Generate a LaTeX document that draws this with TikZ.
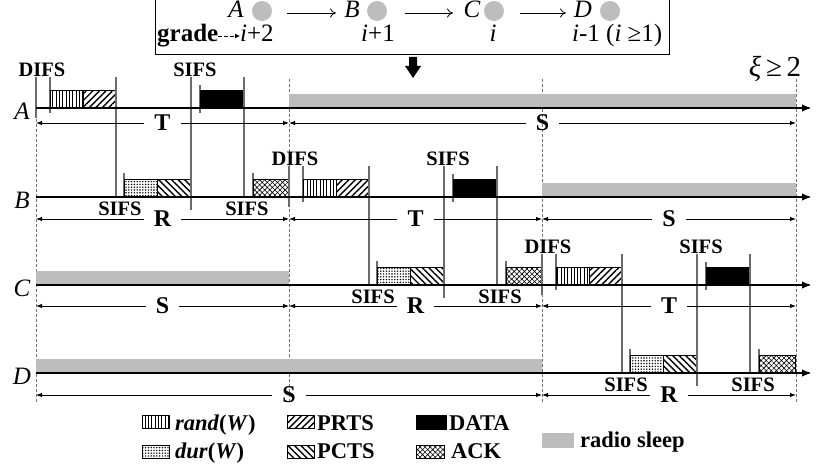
\documentclass[tikz,border=0pt]{standalone}
\usepackage{fontspec}
\setmainfont{Liberation Serif}
\usetikzlibrary{arrows.meta,patterns.meta}
\definecolor{vline}{gray}{0.42}
\definecolor{guidec}{gray}{0.45}
\definecolor{sleepc}{gray}{0.74}
\newcommand\myfs[1]{\fontsize{#1}{#1}\selectfont}
\begin{document}
\begin{tikzpicture}[x=1pt,y=-1pt,
  guide/.style={draw=guidec,line width=0.6pt,dash pattern=on 3pt off 2pt},
  vl/.style={draw=vline,line width=1.2pt},
  axisline/.style={draw=black,line width=1.2pt,-{Latex[length=9pt,width=7pt]}},
  pbox/.style={draw=black,line width=1pt},
  randp/.style={pbox,pattern={Lines[angle=90,distance=3.3pt,line width=0.7pt]}},
  prtsp/.style={pbox,pattern={Lines[angle=45,distance=4.6pt,line width=1.4pt]}},
  pctsp/.style={pbox,pattern={Lines[angle=-45,distance=4.6pt,line width=1.4pt]}},
  durp/.style={pbox,pattern={Dots[distance=2.8pt,radius=0.8pt]}},
  ackp/.style={pbox,pattern={Hatch[angle=45,distance=3.6pt,line width=0.6pt]}},
  datap/.style={pbox,fill=black},
  sleep/.style={fill=sleepc},
  lbl/.style={font=\bfseries\myfs{20.5},inner sep=0pt},
  spanlbl/.style={font=\bfseries\myfs{24},inner xsep=10pt,inner ysep=0pt},
  spanline/.style={line width=0.9pt},
  rowlbl/.style={font=\itshape\myfs{25},inner sep=0pt},
  boxtxt/.style={font=\myfs{25},inner sep=0pt,anchor=base},
  legtxt/.style={font=\bfseries\myfs{22.5},inner sep=0pt,anchor=base west}]
\useasboundingbox (0,0) rectangle (817,470);

% ---------- top box ----------
\draw[line width=1pt] (155,-1) rectangle (669,55);
\node[boxtxt] (tA) at (236,18) {\itshape A};
\node[boxtxt] (tB) at (352,18) {\itshape B};
\node[boxtxt] (tC) at (472,18) {\itshape C};
\node[boxtxt] (tD) at (583,18) {\itshape D};
\fill[sleepc] (262,11) circle[radius=10];
\fill[sleepc] (377,11) circle[radius=10];
\fill[sleepc] (494,11) circle[radius=10];
\fill[sleepc] (610,11) circle[radius=10];
\coordinate (a1s) at (287,13); \coordinate (a1e) at (336,13);
\coordinate (a2s) at (405,13); \coordinate (a2e) at (453,13);
\coordinate (a3s) at (520,13); \coordinate (a3e) at (566,13);
\draw[line width=0.8pt,-{To[length=6pt,width=9pt]}] (a1s) -- (a1e);
\draw[line width=0.8pt,-{To[length=6pt,width=9pt]}] (a2s) -- (a2e);
\draw[line width=0.8pt,-{To[length=6pt,width=9pt]}] (a3s) -- (a3e);
\node[boxtxt,anchor=base west] (grade) at (157,42) {\bfseries grade};
\node[boxtxt,anchor=base west] (g2) at (240,42) {\textit{i}+2};
\draw[line width=0.8pt,dash pattern=on 4pt off 2pt,-{Latex[length=5pt,width=5pt]}] (grade.east|-0,36) -- (g2.west|-0,36);
\node[boxtxt] (g1) at (378,42) {\textit{i}+1};
\node[boxtxt] (g0) at (493,42) {\textit{i}};
\node[boxtxt,anchor=base west] (gm) at (572,42) {\textit{i}-1 (\textit{i} ≥1)};

% down arrow
\fill[black] (409,57) -- (417,57) -- (417,66) -- (421,66) -- (413,78) -- (405,66) -- (409,66) -- cycle;

% xi
\node[boxtxt,font=\myfs{29}] (xi) at (775,77) {\textit{ξ}\,≥\,2};

% ---------- guides ----------
\foreach \gx in {36,289,542,796}
  \draw[guide] (\gx,79) -- (\gx,404);

% ---------- sleep bars ----------
\fill[sleep] (289,94) rectangle (796,108);
\fill[sleep] (542,183) rectangle (796,197);
\fill[sleep] (36,271) rectangle (289,285);
\fill[sleep] (36,359) rectangle (542,373);

% ---------- axes ----------
\foreach \ay/\nm in {108/A,197/B,285/C,373/D}{
  \coordinate (ax\nm s) at (36,\ay);
  \coordinate (ax\nm e) at (811,\ay);
  \draw[axisline] (ax\nm s) -- (ax\nm e);
  \node[rowlbl] (row\nm) at (22,\ay+3) {\nm};
}

% ---------- exchanges ----------
\foreach \s/\ya/\yb in {36/108/197,289/197/285,542/285/373}{
  \draw[vl] (\s,\ya-31) -- (\s,\ya+10);
  \draw[vl] (\s+14,\ya-31) -- (\s+14,\ya+5);
  \draw[randp] (\s+14,\ya-17) rectangle (\s+47,\ya);
  \draw[prtsp] (\s+47,\ya-17) rectangle (\s+80,\ya);
  \draw[vl] (\s+80,\ya-31) -- (\s+80,\yb);
  \draw[vl] (\s+88,\yb-24) -- (\s+88,\yb);
  \draw[durp] (\s+88,\yb-17) rectangle (\s+121,\yb);
  \draw[pctsp] (\s+121,\yb-17) rectangle (\s+155,\yb);
  \draw[vl] (\s+155,\ya-31) -- (\s+155,\yb+13);
  \draw[vl] (\s+164,\ya-23) -- (\s+164,\ya+5);
  \draw[datap] (\s+164,\ya-17) rectangle (\s+208,\ya);
  \draw[vl] (\s+208,\ya-31) -- (\s+208,\yb);
  \draw[vl] (\s+217,\yb-24) -- (\s+217,\yb);
  \draw[ackp] (\s+217,\yb-17) rectangle (\s+253,\yb);
  \node[lbl] (difs\s) at (\s+6,\ya-38) {DIFS};
  \node[lbl] (sifsa\s) at (\s+159,\ya-38) {SIFS};
  \node[lbl] (sifsb\s) at (\s+84,\yb+12) {SIFS};
  \node[lbl] (sifsc\s) at (\s+211,\yb+12) {SIFS};
}
% redraw axes over boxes bottoms
\foreach \nm in {A,B,C,D}
  \draw[axisline] (ax\nm s) -- (ax\nm e);

% ---------- spans ----------
\foreach \a/\b/\y/\t/\k in {36/289/123/T/1,289/796/123/S/2,
  36/289/219/R/3,289/542/219/T/4,542/796/219/S/5,
  36/289/306/S/6,289/542/306/R/7,542/796/306/T/8,
  36/542/395/S/9,542/796/395/R/10}{
  \coordinate (sp\k a) at (\a,\y);
  \coordinate (sp\k b) at (\b,\y);
  \node[spanlbl] (sp\k) at ({(\a+\b)/2},\y) {\t};
  \draw[spanline,-{Latex[length=6pt,width=4.5pt]}] (sp\k.west) -- (sp\k a);
  \draw[spanline,-{Latex[length=6pt,width=4.5pt]}] (sp\k.east) -- (sp\k b);
}

% ---------- legend ----------
\draw[randp] (142,415) rectangle (169,428);
\node[legtxt] (lrand) at (175,430) {\textit{rand}(\textit{W})};
\draw[durp] (142,445) rectangle (169,458);
\node[legtxt] (ldur) at (175,458) {\textit{dur}(\textit{W})};
\draw[prtsp] (287,415) rectangle (314,428);
\node[legtxt] (lprts) at (317,430) {PRTS};
\draw[pctsp] (287,445) rectangle (314,458);
\node[legtxt] (lpcts) at (317,458) {PCTS};
\draw[datap] (416,415) rectangle (446,429);
\node[legtxt] (ldata) at (449,430) {DATA};
\draw[ackp] (416,445) rectangle (444,458);
\node[legtxt] (lack) at (451,458) {ACK};
\fill[sleep] (542,433) rectangle (574,448);
\node[legtxt] (lsleep) at (580,447) {radio sleep};
\end{tikzpicture}
\end{document}
